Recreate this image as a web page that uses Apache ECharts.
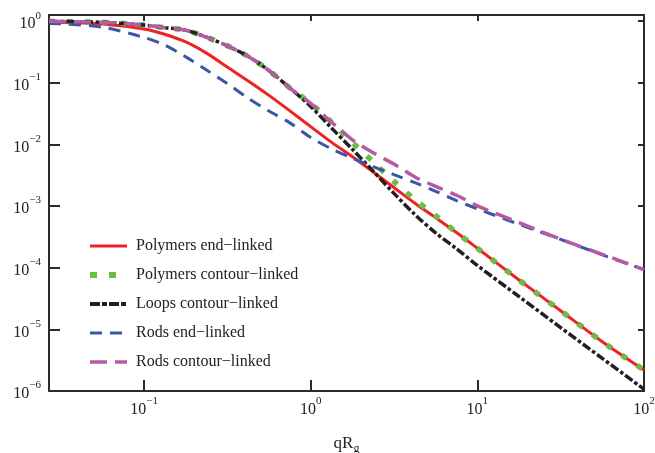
<!DOCTYPE html>
<html>
<head>
<meta charset="utf-8">
<script src="https://cdn.jsdelivr.net/npm/echarts@6/dist/echarts.min.js"></script>
<style>html,body{margin:0;padding:0;background:#fff;}#c{width:655px;height:453px;}</style>
</head>
<body>
<div id="c"></div>
<script>
// qR_g values (x) and scattering functions (y)
const qRg = [0.0269, 0.0316, 0.0562, 0.1, 0.133, 0.178, 0.237, 0.316, 0.422, 0.562, 0.750, 1, 1.33, 1.78, 2.37, 3.16, 4.22, 5.62, 7.50, 10, 17.8, 31.6, 56.2, 100];
const polymersEnd = [0.970, 0.959, 0.904, 0.748, 0.614, 0.460, 0.303, 0.180, 0.107, 0.0625, 0.0351, 0.0195, 0.0109, 0.00631, 0.00358, 0.00200, 0.00111, 0.000649, 0.000372, 0.000207, 0.0000631, 0.0000201, 0.00000631, 0.00000219];
const polymersContour = [0.993, 0.989, 0.959, 0.865, 0.785, 0.713, 0.550, 0.398, 0.268, 0.158, 0.0824, 0.0463, 0.0232, 0.0108, 0.00520, 0.00252, 0.00127, 0.000697, 0.000372, 0.000207, 0.0000631, 0.0000201, 0.00000631, 0.00000219];
const loopsContour = [0.993, 0.989, 0.959, 0.865, 0.785, 0.713, 0.550, 0.398, 0.268, 0.158, 0.0824, 0.0415, 0.0186, 0.00834, 0.00369, 0.00161, 0.000728, 0.000368, 0.000203, 0.000109, 0.0000340, 0.0000107, 0.00000339, 0.00000107];
const rodsEnd = [0.918, 0.911, 0.800, 0.545, 0.410, 0.264, 0.162, 0.0970, 0.0562, 0.0348, 0.0224, 0.0130, 0.00851, 0.00596, 0.00437, 0.00324, 0.00240, 0.00174, 0.00123, 0.000904, 0.000507, 0.000288, 0.000162, 0.0000933];
const rodsContour = [0.993, 0.989, 0.959, 0.865, 0.785, 0.713, 0.550, 0.398, 0.268, 0.158, 0.0824, 0.0463, 0.0231, 0.0119, 0.00731, 0.00481, 0.00297, 0.00209, 0.00150, 0.00101, 0.000537, 0.000290, 0.000165, 0.0000933];
const seriesNames = ['Polymers end\u2212linked', 'Polymers contour\u2212linked', 'Loops contour\u2212linked', 'Rods end\u2212linked', 'Rods contour\u2212linked'];
const xTickExponents = [-1, 0, 1, 2];
const yTickExponents = [-6, -5, -4, -3, -2, -1, 0];
const xRange = [0.0269, 100];
const yRange = [1e-6, 1.26];

const font = 'Liberation Serif';
const axisColor = '#2b2b2b';
const colors = ['#ec2227', '#6cbd45', '#231f20', '#3a56a5', '#b75aa5'];
const lineStyles = [
  { width: 3, type: 'solid' },
  { width: 5.5, type: [6, 12] },
  { width: 3.5, type: [9, 2.5, 3.5, 2.5] },
  { width: 3, type: [12, 8] },
  { width: 3.5, type: [17, 8] }
];
const legendStyles = [
  { width: 3, type: 'solid' },
  { width: 6, type: [7, 12] },
  { width: 4, type: [10, 2, 5, 2] },
  { width: 3, type: [12, 8] },
  { width: 3.5, type: [17, 8] }
];
const toPts = ys => qRg.map((x, i) => [Math.log10(x), Math.log10(ys[i])]);
const expLabel = v => {
  const e = Math.round(v);
  return '{b|10}{s|' + (e < 0 ? '\u2212' + (-e) : e) + '}';
};
const richLabel = {
  b: { fontFamily: font, fontSize: 16, color: '#222', lineHeight: 22, verticalAlign: 'bottom' },
  s: { fontFamily: font, fontSize: 11, color: '#222', lineHeight: 10, verticalAlign: 'top' }
};
const xMin = Math.log10(xRange[0]), xMax = Math.log10(xRange[1]);
const yMin = Math.log10(yRange[0]), yMax = Math.log10(yRange[1]);

const chart = echarts.init(document.getElementById('c'));
const baseLine = { show: true, onZero: false, lineStyle: { color: axisColor, width: 2 } };
const allData = [polymersEnd, polymersContour, loopsContour, rodsEnd, rodsContour];
chart.setOption({
  animation: false,
  backgroundColor: '#fff',
  grid: { left: 49, right: 11, top: 15, bottom: 62, containLabel: false, outerBoundsMode: 'none' },
  xAxis: [
    {
      type: 'value', min: xMin, max: xMax, position: 'bottom',
      axisLine: baseLine,
      axisTick: { show: true, inside: true, length: 11, lineStyle: { color: axisColor, width: 2 }, customValues: xTickExponents },
      axisLabel: { show: true, margin: 5, formatter: expLabel, rich: richLabel, customValues: xTickExponents },
      splitLine: { show: false },
      name: 'qR{g|g}', nameLocation: 'middle', nameGap: 44,
      nameTextStyle: { fontFamily: font, fontSize: 17, color: '#222',
        rich: { g: { fontFamily: font, fontSize: 12, color: '#222', verticalAlign: 'bottom', lineHeight: 12, padding: [0, 0, -3, 0] } } }
    },
    {
      type: 'value', min: xMin, max: xMax, position: 'top',
      axisLine: baseLine,
      axisTick: { show: true, inside: true, length: 6, lineStyle: { color: axisColor, width: 2 }, customValues: xTickExponents },
      axisLabel: { show: false },
      splitLine: { show: false }
    }
  ],
  yAxis: [
    {
      type: 'value', min: yMin, max: yMax, position: 'left',
      axisLine: baseLine,
      axisTick: { show: true, inside: true, length: 11, lineStyle: { color: axisColor, width: 2 }, customValues: yTickExponents },
      axisLabel: { show: true, margin: 8, formatter: expLabel, rich: richLabel, customValues: yTickExponents },
      splitLine: { show: false }
    },
    {
      type: 'value', min: yMin, max: yMax, position: 'right',
      axisLine: baseLine,
      axisTick: { show: true, inside: true, length: 6, lineStyle: { color: axisColor, width: 2 }, customValues: yTickExponents },
      axisLabel: { show: false },
      splitLine: { show: false }
    }
  ],
  legend: {
    orient: 'vertical', left: 87, top: 238, padding: 0,
    itemWidth: 37, itemHeight: 16, itemGap: 13,
    itemStyle: { opacity: 0 },
    textStyle: { fontFamily: font, fontSize: 16, lineHeight: 16, color: '#222', padding: [0, 0, 0, 4] },
    data: seriesNames.map((n, i) => ({ name: n, lineStyle: Object.assign({ color: colors[i] }, legendStyles[i]) }))
  },
  series: seriesNames.map((n, i) => ({
    name: n, type: 'line', data: toPts(allData[i]), symbol: 'none', smooth: 0.3,
    lineStyle: Object.assign({ color: colors[i] }, lineStyles[i]),
    itemStyle: { color: colors[i] }
  }))
});
</script>
</body>
</html>
